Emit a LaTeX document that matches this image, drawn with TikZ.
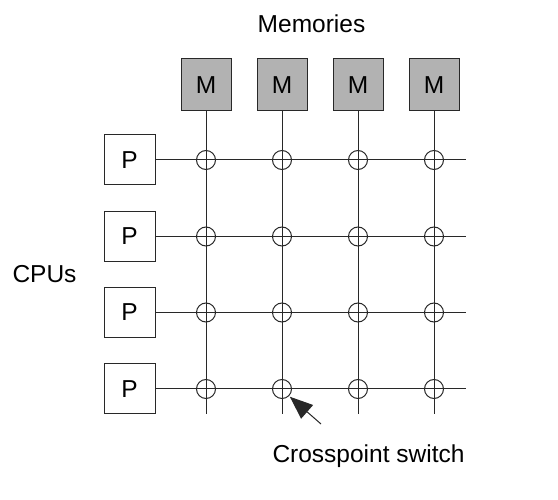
\documentclass[tikz,border=0pt]{standalone}
\usepackage{fontspec}
\setmainfont{Liberation Sans}
\usepackage{xcolor}
\usepackage{tikz}
\usetikzlibrary{arrows.meta,positioning}
\definecolor{linegray}{RGB}{40,40,40}
\definecolor{memgray}{RGB}{178,178,178}

\begin{document}
\begin{tikzpicture}[x=1pt, y=-1pt, font=\fontsize{24.5}{29}\selectfont, line width=1pt,
    membox/.style={rectangle, draw=linegray, fill=memgray, minimum width=50pt, minimum height=52pt, inner sep=0pt},
    cpubox/.style={rectangle, draw=linegray, fill=white, minimum width=51pt, minimum height=50pt, inner sep=0pt},
    xswitch/.style={circle, draw=linegray, minimum size=19pt, inner sep=0pt}]
        \useasboundingbox (0,0) rectangle (558,500);

        \node[membox] (m1) at (206,85) {M};
        \node[membox] (m2) at (282,85) {M};
        \node[membox] (m3) at (358,85) {M};
        \node[membox] (m4) at (434,85) {M};

        \node[cpubox] (p1) at (129.5,160) {P};
        \node[cpubox] (p2) at (129.5,236.5) {P};
        \node[cpubox] (p3) at (129.5,312.5) {P};
        \node[cpubox] (p4) at (129.5,389) {P};

        \coordinate (bottom) at (0,414);
        \coordinate (right) at (466,0);

        \foreach \m in {1,...,4}
          \draw[linegray] (m\m.south) -- (m\m |- bottom);
        \foreach \p in {1,...,4}
          \draw[linegray] (p\p.east) -- (p\p -| right);

        \foreach \p in {1,...,4}
          \foreach \m in {1,...,4}
            \node[xswitch] (sw\p\m) at (m\m |- p\p) {};

        \node[anchor=base] (memories) at (311.5,33) {Memories};
        \node[anchor=base] (cpus) at (44.5,283) {CPUs};
        \node[anchor=base] (crosspoint) at (368.5,463) {Crosspoint switch};

        \coordinate (tail) at (321,424);
        \draw[-{Triangle[length=23pt,width=18pt]}, linegray, shorten >=1pt] (tail) -- (sw42.south east);
      \end{tikzpicture}
\end{document}
